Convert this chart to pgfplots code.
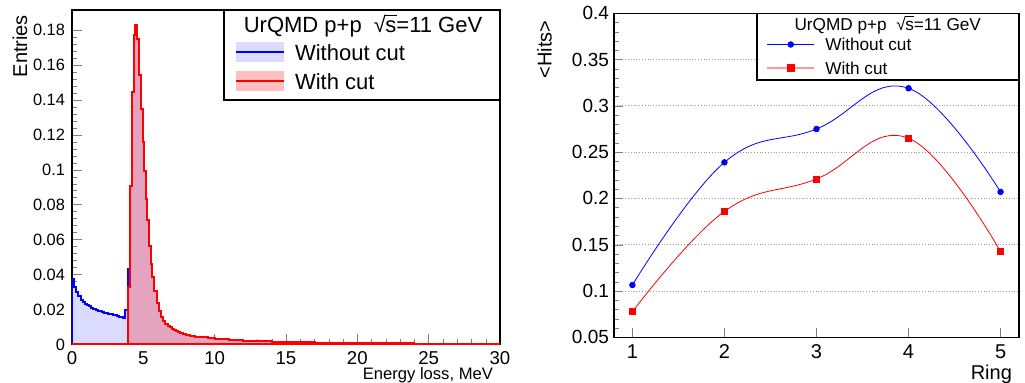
\documentclass[border=0pt]{standalone}
\usepackage{pgfplots}
\pgfplotsset{compat=1.18}
\usepackage{fontspec}
\setmainfont{Liberation Sans}
\newcommand{\sqrts}{\mbox{√\kern-0.03em\rlap{\rule[0.78em]{0.52em}{0.06em}}s}}
\begin{document}
\begin{tikzpicture}
\path[use as bounding box] (0,0) rectangle (512.5pt,191.5pt);
% ---------------- left panel ----------------
\begin{axis}[
  at={(36pt,19.25pt)}, anchor=south west,
  scale only axis, width=214pt, height=167.25pt,
  clip mode=individual,
  xmin=0, xmax=30, ymin=0, ymax=0.1914,
  xtick={0,5,10,15,20,25,30},
  ytick={0,0.02,0.04,0.06,0.08,0.1,0.12,0.14,0.16,0.18},
  minor x tick num=4, minor y tick num=4,
  tick pos=left, tick align=inside,
  major tick length=5pt, minor tick length=2.5pt,
  scaled y ticks=false,
  /pgf/number format/assume math mode=true,
  yticklabel style={/pgf/number format/fixed, /pgf/number format/precision=2, font=\fontsize{8.2}{9}\selectfont},
  xticklabel style={font=\fontsize{9.3}{10}\selectfont},
  axis line style={line width=0.6pt},
  legend style={at={(0.381,0.905)}, anchor=north west, draw=none, fill=none, inner sep=0pt,
    font=\fontsize{11}{13}\selectfont, row sep=4.5pt,
    nodes={inner sep=0pt, text height=8pt, text depth=0pt, anchor=west},
    /tikz/every odd column/.style={column sep=5pt}},
  legend cell align=left,
  legend image code/.code={\path[#1,draw=none] (0pt,-5pt) rectangle (23.8pt,5pt); \draw[#1,fill=none] (0pt,0pt) -- (23.8pt,0pt);},
]
\addplot[const plot, draw=blue, line width=1pt, fill=blue!14, forget plot] coordinates {
(0,0.0373) (0.15,0.0330) (0.30,0.0300) (0.45,0.0275) (0.60,0.0255) (0.75,0.0242) (0.90,0.0232) (1.05,0.0225) (1.20,0.0218) (1.35,0.0211) (1.50,0.0205) (1.65,0.0199) (1.80,0.0194) (1.95,0.0190) (2.10,0.0186) (2.25,0.0183) (2.40,0.0180) (2.55,0.0177) (2.70,0.0174) (2.85,0.0171) (3.00,0.0167) (3.15,0.0162) (3.30,0.0158) (3.45,0.0155) (3.60,0.0151) (3.75,0.0197) (3.90,0.0431)
(4.05,0.0906) (4.20,0.1445) (4.32,0.1770) (4.40,0.1830) (4.55,0.1750) (4.68,0.1540) (4.81,0.1350) (4.95,0.1160) (5.05,0.0995) (5.19,0.0830) (5.28,0.0710) (5.40,0.0565) (5.51,0.0460) (5.63,0.0387) (5.77,0.0307) (5.93,0.0240) (6.10,0.0194) (6.25,0.0160) (6.40,0.0135) (6.55,0.0118) (6.70,0.0108) (6.85,0.0100) (7.00,0.0091) (7.15,0.0083) (7.30,0.0076) (7.45,0.0070) (7.60,0.0065) (7.80,0.0060) (8.00,0.0055) (8.30,0.0049) (8.60,0.0045) (9.00,0.0040) (9.50,0.0036) (10.0,0.0032) (10.5,0.0029) (11.0,0.0026) (11.5,0.0024) (12.0,0.0022) (13.0,0.0019) (14.0,0.0016) (15.0,0.0014) (16.0,0.0013) (17.0,0.0011) (18.0,0.0010) (19.0,0.0009) (20.0,0.0008) (21.0,0.0007) (22.0,0.0006) (23.0,0.0006) (24.0,0.0005) (25.0,0.0005) (26.0,0.0004) (27.0,0.0004) (28.0,0.0003) (29.0,0.0003) (30.0,0.0003)
} \closedcycle;
\addplot[const plot, draw=red, line width=1pt, fill=red, fill opacity=0.25, draw opacity=1, forget plot] coordinates {
(0,0) (3.90,0.0329)
(4.05,0.0906) (4.20,0.1445) (4.32,0.1770) (4.40,0.1830) (4.55,0.1750) (4.68,0.1540) (4.81,0.1350) (4.95,0.1160) (5.05,0.0995) (5.19,0.0830) (5.28,0.0710) (5.40,0.0565) (5.51,0.0460) (5.63,0.0387) (5.77,0.0307) (5.93,0.0240) (6.10,0.0194) (6.25,0.0160) (6.40,0.0135) (6.55,0.0118) (6.70,0.0108) (6.85,0.0100) (7.00,0.0091) (7.15,0.0083) (7.30,0.0076) (7.45,0.0070) (7.60,0.0065) (7.80,0.0060) (8.00,0.0055) (8.30,0.0049) (8.60,0.0045) (9.00,0.0040) (9.50,0.0036) (10.0,0.0032) (10.5,0.0029) (11.0,0.0026) (11.5,0.0024) (12.0,0.0022) (13.0,0.0019) (14.0,0.0016) (15.0,0.0014) (16.0,0.0013) (17.0,0.0011) (18.0,0.0010) (19.0,0.0009) (20.0,0.0008) (21.0,0.0007) (22.0,0.0006) (23.0,0.0006) (24.0,0.0005) (25.0,0.0005) (26.0,0.0004) (27.0,0.0004) (28.0,0.0003) (29.0,0.0003) (30.0,0.0003)
} \closedcycle;
\addlegendimage{draw=blue, line width=1pt, fill=blue!14}
\addlegendentry{Without cut}
\addlegendimage{draw=red, line width=1pt, fill=red!25}
\addlegendentry{With cut}
\draw[line width=0.6pt, fill=white] (rel axis cs:0.355,0.731) rectangle (rel axis cs:1,1);
\node[font=\fontsize{11}{13}\selectfont] at (rel axis cs:0.68,0.952) {UrQMD p+p \ \sqrts=11 GeV};
\node[font=\fontsize{8.3}{10}\selectfont, anchor=base east] at (rel axis cs:1,0) [yshift=-17.75pt] {Energy loss, MeV};
\end{axis}
\node[rotate=90, anchor=base east, font=\fontsize{10}{12}\selectfont] at (13.5pt,187.5pt) {Entries};
% ---------------- right panel ----------------
\begin{axis}[
  at={(307pt,22.85pt)}, anchor=south west,
  scale only axis, width=202.5pt, height=162pt,
  clip mode=individual,
  xmin=0.8, xmax=5.2, ymin=0.05, ymax=0.4,
  xtick={1,2,3,4,5},
  ytick={0.05,0.1,0.15,0.2,0.25,0.3,0.35,0.4},
  minor y tick num=4,
  tick pos=left, tick align=inside,
  major tick length=4.5pt, minor tick length=2.5pt,
  ymajorgrids, grid style={densely dotted, gray!80},
  scaled y ticks=false,
  /pgf/number format/assume math mode=true,
  yticklabel style={/pgf/number format/fixed, /pgf/number format/precision=2, font=\fontsize{9.5}{11}\selectfont, xshift=1pt},
  xticklabel style={font=\fontsize{10}{11}\selectfont},
  axis line style={line width=0.6pt},
  legend style={at={(0.375,0.925)}, anchor=north west, draw=none, fill=none, inner sep=0pt,
    font=\fontsize{8.6}{10}\selectfont, row sep=5.5pt,
    nodes={inner sep=0pt, text height=6.5pt, text depth=0pt, anchor=west},
    /tikz/every odd column/.style={column sep=5pt}},
  legend cell align=left,
  legend image code/.code={\draw[#1, mark repeat=2, mark phase=2] plot coordinates {(0pt,0pt) (11.75pt,0pt) (23.5pt,0pt)};},
]
\addplot[blue, line width=0.4pt, smooth, tension=0.7, mark=*, mark size=1.4pt, forget plot] coordinates {
(1,0.1065) (2,0.2390) (3,0.2750) (4,0.3190) (5,0.2070)
};
\addplot[red, line width=0.4pt, smooth, tension=0.7, mark=square*, mark size=1.5pt, forget plot] coordinates {
(1,0.0776) (2,0.1860) (3,0.2210) (4,0.2650) (5,0.1425)
};
\draw[line width=0.6pt, fill=white] (rel axis cs:0.353,0.794) rectangle (rel axis cs:1,1);
\addlegendimage{blue, line width=0.4pt, mark=*, mark size=1.4pt}
\addlegendentry{Without cut}
\addlegendimage{red!40, line width=1pt, mark=square*, mark size=1.5pt, mark options={red}}
\addlegendentry{With cut}
\node[font=\fontsize{8.6}{10}\selectfont] at (rel axis cs:0.676,0.964) {UrQMD p+p \ \sqrts=11 GeV};
\node[font=\fontsize{10}{12}\selectfont, anchor=base east] at (rel axis cs:1,0) [yshift=-21pt] {Ring};
\end{axis}
\node[rotate=90, anchor=base east, font=\fontsize{10}{12}\selectfont] at (275.8pt,184.8pt) {<Hits>};
\end{tikzpicture}
\end{document}
